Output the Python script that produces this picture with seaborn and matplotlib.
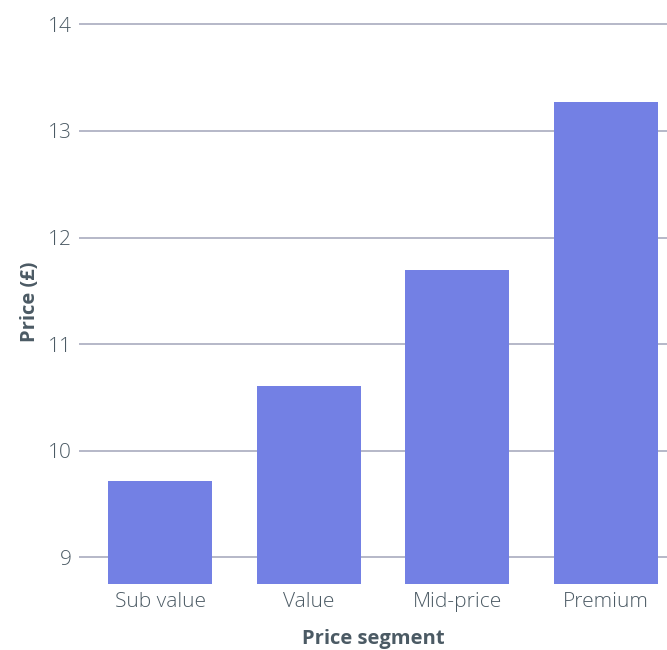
import matplotlib
matplotlib.use("Agg")
import matplotlib.pyplot as plt
import seaborn as sns
import pandas as pd

segments = ["Sub value", "Value", "Mid-price", "Premium"]
prices = [9.72, 10.61, 11.70, 13.27]
yticks = [9, 10, 11, 12, 13, 14]

sns.set_theme(style="white")
plt.rcParams['font.family'] = ['Open Sans', 'DejaVu Sans']

txt = "#4b5a64"
df = pd.DataFrame({"segment": segments, "price": prices})

fig = plt.figure(figsize=(6.67, 6.5), dpi=100)
ax = fig.add_axes([79/667, 66/650, 1 - 79/667, (650-66-19)/650])
sns.barplot(data=df, x="segment", y="price", color="#7380E4", saturation=1,
            width=0.70, ax=ax, zorder=2, linewidth=0)
ax.set_ylim(8.75, 14.05)
ax.set_xlim(-0.545, 3.41)
ax.set_yticks(yticks)
ax.set_yticklabels([str(t) for t in yticks])
ax.yaxis.grid(True, color="#a9acbf", linewidth=1.2, zorder=0)
ax.set_axisbelow(True)
for s in ax.spines.values():
    s.set_visible(False)
ax.tick_params(axis="both", length=0, labelsize=15, colors=txt)
ax.tick_params(axis="y", pad=5)
ax.tick_params(axis="x", pad=6)
for lbl in ax.get_xticklabels() + ax.get_yticklabels():
    lbl.set_fontweight("light")
ax.set_xlabel("Price segment", fontsize=14.5, fontweight="bold", color=txt, labelpad=12)
ax.set_ylabel("Price (£)", fontsize=14.5, fontweight="bold", color=txt, labelpad=6)
fig.savefig("out.png", dpi=100)
